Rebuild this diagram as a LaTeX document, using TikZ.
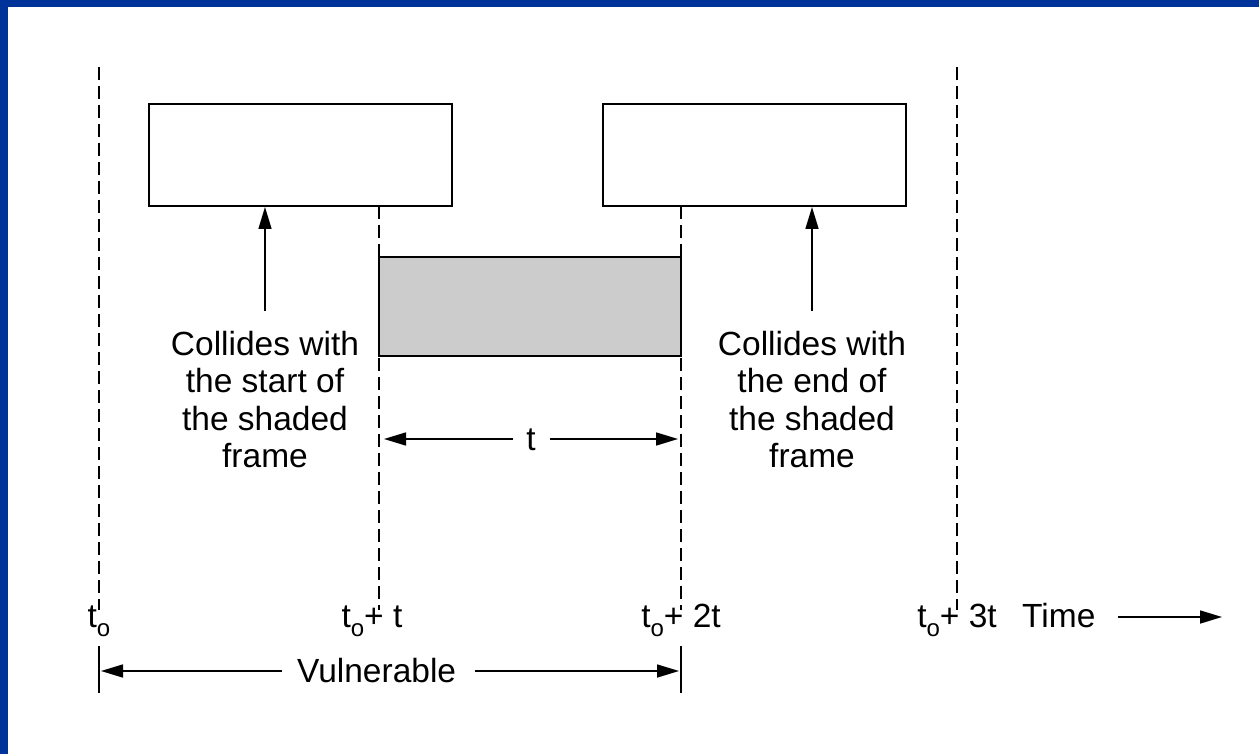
\documentclass[tikz,border=0pt]{standalone}
\usepackage{fontspec}
\setmainfont{Liberation Sans}
\usetikzlibrary{arrows.meta}
\definecolor{frameblue}{RGB}{0,51,153}
\definecolor{shade}{RGB}{204,204,204}
\newcommand\lowsub[1]{\raisebox{-0.28em}{\fontsize{24}{24}\selectfont #1}}
\tikzset{
  frm/.style={draw=black, line width=2pt, minimum width=303pt, minimum height=102pt, inner sep=0pt},
  shaded/.style={draw=black, fill=shade, line width=2pt, minimum width=302pt, minimum height=99pt, inner sep=0pt},
  dsh/.style={line width=1.6pt, dash pattern=on 13pt off 6pt},
  arr/.style={line width=1.6pt, -{Triangle[length=22pt,width=13pt]}},
  tick/.style={line width=1.6pt},
  lbl/.style={font=\fontsize{33.5}{37.5}\selectfont, inner sep=0pt, align=center},
}
\begin{document}
\begin{tikzpicture}[x=1pt,y=-1pt]
\useasboundingbox (0,0) rectangle (1259,754);
\fill[white] (0,0) rectangle (1259,754);
\fill[frameblue] (0,0) rectangle (1259,7.5);
\fill[frameblue] (0,0) rectangle (7.5,754);

% dashed time lines
\coordinate (d0t) at (99,67);   \coordinate (d0b) at (99,610);
\coordinate (d1t) at (379,206); \coordinate (d1b) at (379,610);
\coordinate (d2t) at (681,206); \coordinate (d2b) at (681,610);
\coordinate (d3t) at (957,67);  \coordinate (d3b) at (957,610);
\draw[dsh] (d0t) -- (d0b);
\draw[dsh] (d1t) -- (d1b);
\draw[dsh] (d2t) -- (d2b);
\draw[dsh] (d3t) -- (d3b);

% frames
\node[frm] (box1) at (300.5,155) {};
\node[frm] (box2) at (754.5,155) {};
\node[shaded] (sh) at (530,306.5) {};

% labels
\node[lbl, anchor=north] (c1) at (265,331) {Collides with\\the start of\\the shaded\\frame};
\node[lbl, anchor=north] (c2) at (812,331) {Collides with\\the end of\\the shaded\\frame};
\coordinate (a1) at (265,311);
\coordinate (a2) at (812,311);
\draw[arr] (a1) -- (a1 |- box1.south);
\draw[arr] (a2) -- (a2 |- box2.south);

% t interval
\node[lbl, anchor=base] (tt) at (531,450) {t};
\coordinate (tl) at (513,439); \coordinate (tle) at (384,439);
\coordinate (tr) at (550,439); \coordinate (tre) at (678,439);
\draw[arr] (tl) -- (tle);
\draw[arr] (tr) -- (tre);

% time labels
\node[lbl, anchor=base] (l0) at (99,627) {t\lowsub{o}};
\node[lbl, anchor=base] (l1) at (372,627) {t\lowsub{o}+ t};
\node[lbl, anchor=base] (l2) at (681,627) {t\lowsub{o}+ 2t};
\node[lbl, anchor=base] (l3) at (957,627) {t\lowsub{o}+ 3t};
\node[lbl, anchor=base west] (time) at (1022,627) {Time};
\coordinate (ts) at (1118,617); \coordinate (te) at (1222,617);
\draw[arr] (ts) -- (te);

% vulnerable
\coordinate (v0t) at (99,646); \coordinate (v0b) at (99,693);
\coordinate (v1t) at (681,646); \coordinate (v1b) at (681,693);
\draw[tick] (v0t) -- (v0b);
\draw[tick] (v1t) -- (v1b);
\node[lbl, anchor=base west] (vul) at (297,682) {Vulnerable};
\coordinate (vl) at (282,671); \coordinate (vle) at (101,671);
\coordinate (vr) at (475,671); \coordinate (vre) at (679,671);
\draw[arr] (vl) -- (vle);
\draw[arr] (vr) -- (vre);
\end{tikzpicture}
\end{document}
